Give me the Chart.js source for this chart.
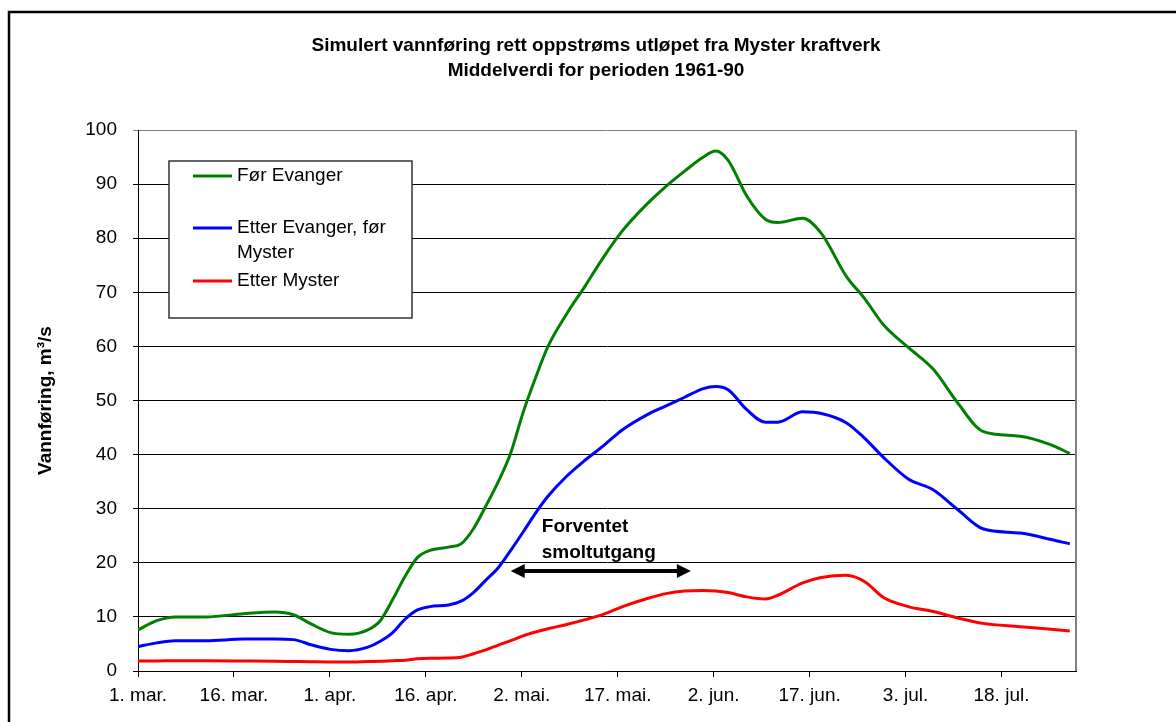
<!DOCTYPE html>
<html>
<head>
<meta charset="utf-8">
<script src="https://cdn.jsdelivr.net/npm/chart.js@4.4.1/dist/chart.umd.min.js"></script>
<style>
  body { margin: 0; background: #fff; overflow: hidden; }
  #wrap { position: relative; width: 1176px; height: 722px; }
</style>
</head>
<body>
<div id="wrap"><canvas id="myChart"></canvas></div>
<script>
const ctx = document.getElementById("myChart").getContext("2d");

// days counted from 1. mar.
const days = [0, 3, 6, 11, 17, 22, 25, 28, 31, 34, 37, 39, 41, 43, 45, 47, 50, 52, 54, 56,
  58, 60, 62, 64, 66, 69, 72, 75, 78, 82, 85, 88, 91, 93, 95, 98, 101, 103, 107, 110,
  114, 117, 120, 124, 128, 132, 136, 142, 147, 150];

const forEvanger = [7.6, 9.3, 10.0, 10.0, 10.6, 10.9, 10.4, 8.6, 7.1, 6.8, 7.6, 9.3, 13.2, 17.5, 21.0, 22.3, 22.9, 23.5, 26.3, 30.5,
  35.0, 40.3, 47.8, 54.2, 60.0, 66.0, 71.2, 76.6, 81.4, 86.4, 89.6, 92.4, 95.0, 96.1, 94.4, 87.8, 83.5, 82.9, 83.7, 80.9,
  73.0, 68.8, 64.0, 59.8, 55.8, 49.5, 44.3, 43.4, 41.8, 40.2];

const etterEvanger = [4.5, 5.2, 5.6, 5.6, 5.9, 5.9, 5.8, 4.8, 4.0, 3.75, 4.4, 5.5, 7.1, 9.6, 11.3, 11.9, 12.2, 12.9, 14.5, 16.8,
  19.1, 22.3, 25.7, 29.2, 32.3, 36.0, 39.0, 41.7, 44.6, 47.4, 49.0, 50.6, 52.2, 52.6, 52.0, 48.3, 46.0, 46.0, 47.9, 47.6,
  45.9, 43.0, 39.5, 35.5, 33.5, 29.8, 26.3, 25.5, 24.3, 23.5];

const etterMyster = [1.85, 1.85, 1.9, 1.9, 1.85, 1.8, 1.75, 1.7, 1.66, 1.65, 1.75, 1.8, 1.9, 2.0, 2.25, 2.35, 2.4, 2.55, 3.2, 3.9,
  4.8, 5.6, 6.5, 7.2, 7.8, 8.6, 9.5, 10.5, 11.9, 13.4, 14.3, 14.8, 14.9, 14.8, 14.5, 13.7, 13.3, 14.0, 16.3, 17.3,
  17.7, 16.5, 13.6, 11.9, 11.0, 9.8, 8.8, 8.2, 7.7, 7.4];

const tickLabels = ["1. mar.", "16. mar.", "1. apr.", "16. apr.", "2. mai.", "17. mai.", "2. jun.", "17. jun.", "3. jul.", "18. jul."];
// excel puts the date labels at even steps, 18. jul. = day 139
const tickStep = 139 / 9;

const seriesNames = ["Før Evanger", "Etter Evanger, før Myster", "Etter Myster"];
const seriesColors = ["#008000", "#0000ff", "#ff0000"];

// arrow for the smolt run (days, m3/s)
const smoltFrom = 60, smoltTo = 89, smoltLevel = 18.5;

const FONT = "'Liberation Sans', Arial, sans-serif";

const toPoints = (vals) => days.map((d, i) => ({ x: d, y: vals[i] }));

const data = {
  datasets: [forEvanger, etterEvanger, etterMyster].map((vals, i) => ({
    label: seriesNames[i],
    data: toPoints(vals),
    borderColor: seriesColors[i],
    borderWidth: 3,
    pointRadius: 0,
    cubicInterpolationMode: "monotone",
    fill: false,
  })),
};

const decor = {
  id: "decor",
  beforeDraw(chart) {
    const c = chart.ctx;
    c.save();
    c.fillStyle = "#fff";
    c.fillRect(0, 0, chart.width, chart.height);
    c.strokeStyle = "#000";
    c.lineWidth = 2.5;
    c.strokeRect(9, 12, 1400, 900);
    c.fillStyle = "#000";
    c.font = "bold 19px " + FONT;
    c.textAlign = "center";
    c.textBaseline = "middle";
    c.fillText("Simulert vannføring rett oppstrøms utløpet fra Myster kraftverk", 596, 46);
    c.fillText("Middelverdi for perioden 1961-90", 596, 71);
    c.restore();
  },
  beforeDatasetsDraw(chart) {
    const a = chart.chartArea;
    const c = chart.ctx;
    c.save();
    c.strokeStyle = "#808080";
    c.lineWidth = 2;
    c.beginPath();
    c.moveTo(a.right, a.top);
    c.lineTo(a.right, a.bottom);
    c.stroke();
    c.restore();
  },
  afterDatasetsDraw(chart) {
    const a = chart.chartArea;
    const c = chart.ctx;
    const xs = chart.scales.x, ys = chart.scales.y;
    c.save();

    // legend box
    const lx = a.left + 31, ly = a.top + 31;
    c.fillStyle = "#fff";
    c.fillRect(lx, ly, 243, 157);
    c.strokeStyle = "#333";
    c.lineWidth = 1.5;
    c.strokeRect(lx, ly, 243, 157);
    c.font = "19px " + FONT;
    c.textBaseline = "middle";
    c.textAlign = "left";
    const rows = [[15, ["Før Evanger"]], [67, ["Etter Evanger, før", "Myster"]], [120, ["Etter Myster"]]];
    rows.forEach(([dy, lines], i) => {
      c.strokeStyle = seriesColors[i];
      c.lineWidth = 3;
      c.beginPath();
      c.moveTo(lx + 24, ly + dy);
      c.lineTo(lx + 63, ly + dy);
      c.stroke();
      c.fillStyle = "#000";
      lines.forEach((t, j) => c.fillText(t, lx + 68, ly + dy + j * 25));
    });

    // smolt arrow
    const x1 = xs.getPixelForValue(smoltFrom), x2 = xs.getPixelForValue(smoltTo);
    const y = ys.getPixelForValue(smoltLevel);
    c.strokeStyle = "#000";
    c.fillStyle = "#000";
    c.lineWidth = 4;
    c.beginPath();
    c.moveTo(x1 + 10, y);
    c.lineTo(x2 - 10, y);
    c.stroke();
    c.beginPath();
    c.moveTo(x1, y); c.lineTo(x1 + 14, y - 7); c.lineTo(x1 + 14, y + 7); c.closePath();
    c.moveTo(x2, y); c.lineTo(x2 - 14, y - 7); c.lineTo(x2 - 14, y + 7); c.closePath();
    c.fill();
    c.font = "bold 19px " + FONT;
    c.fillText("Forventet", xs.getPixelForValue(65), ys.getPixelForValue(26.6));
    c.fillText("smoltutgang", xs.getPixelForValue(65), ys.getPixelForValue(21.9));
    c.restore();
  },
};

const config = {
  type: "line",
  data: data,
  plugins: [decor],
  options: {
    responsive: true,
    maintainAspectRatio: false,
    animation: false,
    layout: { padding: { left: 0, right: 100, top: 130, bottom: 0 } },
    plugins: {
      legend: { display: false },
      title: { display: false },
      tooltip: { enabled: false },
    },
    scales: {
      x: {
        type: "linear",
        min: 0,
        max: 151,
        afterFit: (s) => { s.height = 51; },
        afterBuildTicks: (s) => {
          s.ticks = tickLabels.map((_, i) => ({ value: i * tickStep }));
        },
        grid: { drawOnChartArea: false, drawTicks: true, tickLength: 6, color: "#000" },
        border: { color: "#000", width: 1 },
        ticks: {
          autoSkip: false,
          maxRotation: 0,
          padding: 7,
          color: "#000",
          font: { family: FONT, size: 19 },
          callback: (v, i) => tickLabels[i],
        },
      },
      y: {
        min: 0,
        max: 100,
        afterFit: (s) => { s.width = 138; },
        grid: {
          color: (c) => (c.tick && c.tick.value === 100 ? "#808080" : "#000"),
          lineWidth: 1,
          tickLength: 5,
        },
        border: { color: "#000", width: 1 },
        ticks: {
          stepSize: 10,
          padding: 16,
          color: "#000",
          font: { family: FONT, size: 19 },
        },
        title: {
          display: true,
          text: "Vannføring, m³/s",
          color: "#000",
          font: { family: FONT, size: 19, weight: "bold" },
          padding: { top: 34, bottom: 0 },
        },
      },
    },
  },
};

const myChart = new Chart(ctx, config);
</script>
</body>
</html>
